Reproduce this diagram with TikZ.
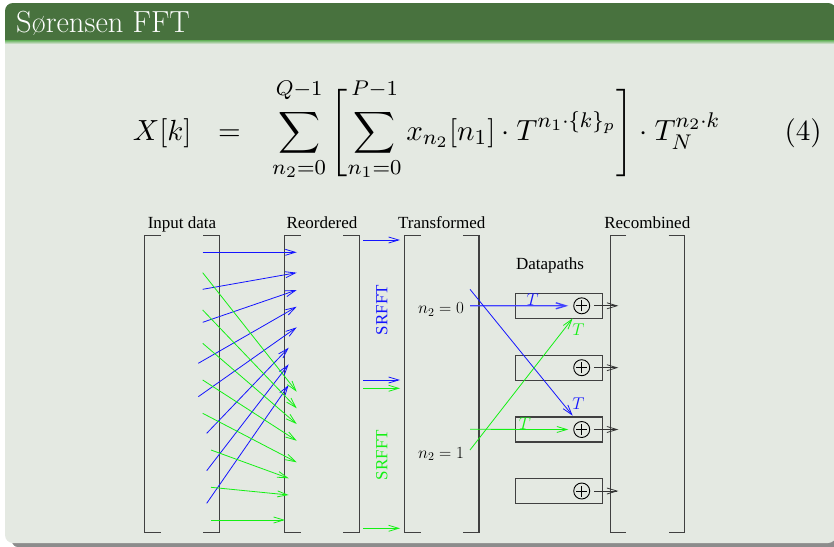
\RequirePackage{fix-cm}
\documentclass[tikz,border=0pt]{standalone}
\usepackage{fontspec}
\usepackage{amsmath}
\usepackage{graphicx}
\usepackage{tikz}
\usetikzlibrary{arrows.meta,positioning,calc}
\newfontfamily\figfont{Liberation Serif}
\definecolor{titlecolor}{RGB}{72,114,62}
\definecolor{stripcolor}{RGB}{96,176,86}
\definecolor{bodycolor}{RGB}{228,233,226}
\definecolor{figblue}{RGB}{20,20,255}
\definecolor{figgreen}{RGB}{20,240,20}
\newcommand{\slidemath}[1]{\scalebox{2.66}{\fontsize{10.95}{13.6}\selectfont #1}}
\newcommand{\uplim}[1]{\smash{\raisebox{3pt}{$\scriptstyle #1$}}}

\begin{document}
\begin{tikzpicture}[x=1pt, y=-1pt,
    col/.style={rectangle, minimum width=74pt, minimum height=296pt, inner sep=0pt},
    brk/.style={black!75, line width=1.2pt},
    lbl/.style={font=\figfont\fontsize{17}{20}\selectfont, anchor=base, inner sep=0pt},
    mlbl/.style={font=\fontsize{17}{20}\selectfont, inner sep=0pt},
    dpbox/.style={rectangle, draw=black!75, line width=1.1pt, minimum width=87pt, minimum height=25pt, inner sep=0pt},
    adder/.style={circle, draw, line width=0.9pt, minimum size=16pt, inner sep=0pt,
        path picture={\draw[line width=0.8pt] ([xshift=-5.5pt]path picture bounding box.center) -- ([xshift=5.5pt]path picture bounding box.center)
            ([yshift=-5.5pt]path picture bounding box.center) -- ([yshift=5.5pt]path picture bounding box.center);}},
    flow/.style={-{Straight Barb[length=10pt,width=6pt]}, line width=0.8pt}
]
    \useasboundingbox (0,0) rectangle (834,546);
    \clip (0,0) rectangle (834,546);
    \fill[black!45, rounded corners=6pt] (12,8) rectangle (842,547);
    \fill[bodycolor, rounded corners=8pt] (5,3) rectangle (836,543);
    \fill[titlecolor] (5,40) [rounded corners=8pt] -- (5,3) -- (836,3) [sharp corners] -- (836,40) -- cycle;
    \shade[top color=stripcolor, bottom color=bodycolor] (5,40) rectangle (836,44);
    \node[anchor=base west, text=white, font=\fontsize{30.5}{36}\selectfont, inner sep=0pt] (title) at (16,32) {Sørensen FFT};

    \node[anchor=base west, inner sep=0pt] (eq) at (132.7,140)
        {\slidemath{$\displaystyle X[k]\hspace{10pt}{=}\hspace{10pt}\sum_{n_2=0}^{\uplim{Q-1}}\left[\sum_{n_1=0}^{\uplim{P-1}} x_{n_2}[n_1]\cdot T^{n_1\cdot\{k\}_p}\right]\cdot T_N^{n_2\cdot k}$}};
    \node[anchor=base east, inner sep=0pt] (eqno) at (822,140) {\slidemath{(4)}};

    \node[col] (inp) at (182,384) {};
    \node[col] (reo) at (322,384) {};
    \node[col] (trn) at (441.7,384) {};
    \node[col] (rec) at (647.3,384) {};
    \foreach \c in {inp,reo,trn,rec} {
        \draw[brk] ([xshift=16pt]\c.north west) -- (\c.north west) -- (\c.south west) -- ([xshift=16pt]\c.south west);
        \draw[brk] ([xshift=-16pt]\c.north east) -- (\c.north east) -- (\c.south east) -- ([xshift=-16pt]\c.south east);
    }
    \node[lbl] (inplbl) at ([yshift=7.5pt]inp.north) {Input data};
    \node[lbl] (reolbl) at ([yshift=7.5pt]reo.north) {Reordered};
    \node[lbl] (trnlbl) at ([yshift=7.5pt]trn.north) {Transformed};
    \node[lbl] (reclbl) at ([yshift=7.5pt]rec.north) {Recombined};
    \node[lbl] (dplbl) at (550,269.3) {Datapaths};

    \foreach \i/\xa/\ya/\xb/\yb in {0/202.7/252.3/296.7/252.3, 1/202.7/289.3/296.7/272.7, 2/202.7/322.3/296.7/290,
        3/198.3/363.3/296.7/306.7, 4/198.3/396.7/296.7/327.3, 5/206.7/433.3/288.7/347.7,
        6/206.7/470.7/288.7/364.3, 7/206.7/503.3/288.7/385} {
        \coordinate (bi\i) at (\xa,\ya);
        \coordinate (bo\i) at (\xb,\yb);
        \draw[flow, figblue] (bi\i) -- (bo\i);
    }
    \foreach \i/\xa/\ya/\xb/\yb in {0/202.7/272.7/296.7/391.7, 1/202.7/310/296.7/408.3, 2/202.7/343.3/296.7/424,
        3/202.7/380/296.7/440.7, 4/202.7/413.3/296.7/462.3, 5/211/450/288.7/478.3,
        6/211/487.3/288.7/495, 7/211/520/285/520} {
        \coordinate (gi\i) at (\xa,\ya);
        \coordinate (go\i) at (\xb,\yb);
        \draw[flow, figgreen] (gi\i) -- (go\i);
    }

    \foreach \i/\yy/\cc in {0/240/figblue, 1/380/figblue, 2/388.3/figgreen, 3/528.3/figgreen} {
        \coordinate (si\i) at (363.3,\yy);
        \coordinate (so\i) at (400,\yy);
        \draw[flow, \cc] (si\i) -- (so\i);
    }
    \node[lbl, anchor=center, rotate=90, text=figblue] (srb) at (381.7,310) {SRFFT};
    \node[lbl, anchor=center, rotate=90, text=figgreen] (srg) at (381.7,455) {SRFFT};
    \node[mlbl, anchor=base] (nz) at (441,313.5) {$n_2 = 0$};
    \node[mlbl, anchor=base] (no) at (441,458.3) {$n_2 = 1$};

    \foreach \j/\yy in {1/305.8, 2/367.7, 3/429.5, 4/491} {
        \node[dpbox] (dp\j) at (558.8,\yy) {};
        \node[adder] (add\j) at (581.7,\yy) {};
        \coordinate (out\j) at (618.3,\yy);
        \draw[flow, black!80, shorten <=4pt] (add\j.east) -- (out\j);
    }

    \coordinate (t0h) at (470,305.7);
    \coordinate (t0d) at (470,289.3);
    \coordinate (t0e) at (572.7,415.7);
    \coordinate (t1h) at (470,429.3);
    \coordinate (t1d) at (470,450);
    \coordinate (t1e) at (572.7,318.3);
    \draw[flow, figblue!80, line width=1.4pt] (t0h) -- ([xshift=-5pt]add1.west);
    \draw[flow, figblue] (t0d) -- (t0e);
    \draw[flow, figgreen] (t1h) -- ([xshift=-5pt]add3.west);
    \draw[flow, figgreen] (t1d) -- (t1e);
    \node[mlbl, text=figblue] (tb1) at (532.7,300) {$T$};
    \node[mlbl, text=figblue] (tb2) at (578.3,403.3) {$T$};
    \node[mlbl, text=figgreen] (tg1) at (525,423.3) {$T$};
    \node[mlbl, text=figgreen] (tg2) at (578.3,329.3) {$T$};
\end{tikzpicture}
\end{document}
